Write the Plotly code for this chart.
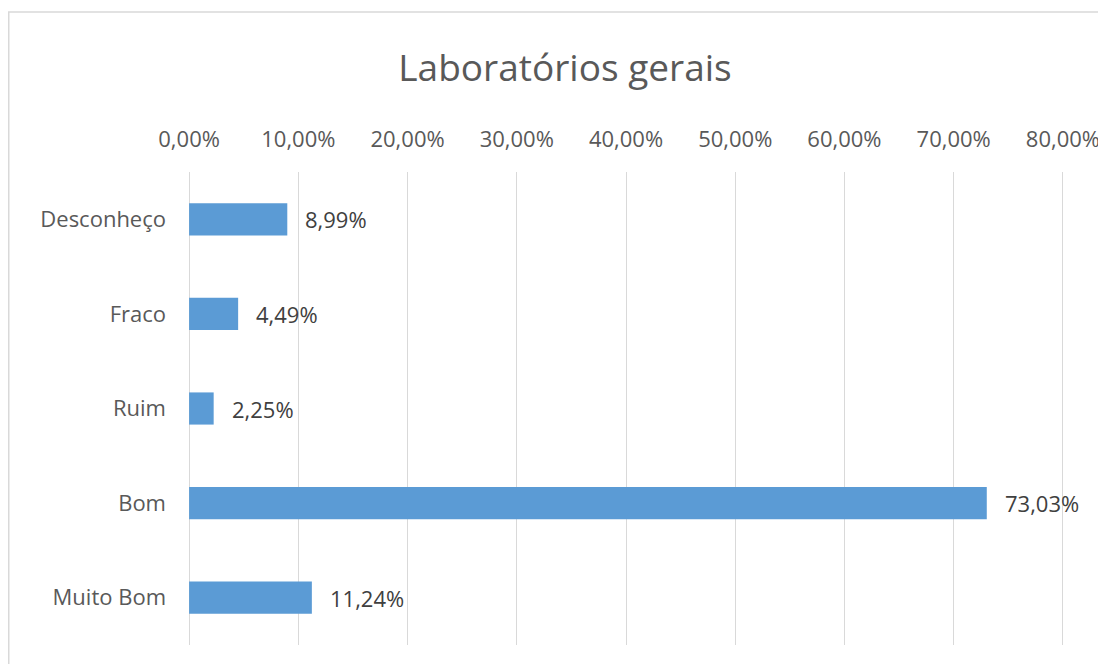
import plotly.graph_objects as go

categories = ["Desconheço", "Fraco", "Ruim", "Bom", "Muito Bom"]
values = [0.0899, 0.0449, 0.0225, 0.7303, 0.1124]
tick_values = [0, 0.1, 0.2, 0.3, 0.4, 0.5, 0.6, 0.7, 0.8]

BAR_COLOR = "#5B9BD5"
TEXT_COLOR = "#595959"
LABEL_COLOR = "#404040"
GRID_COLOR = "#D9D9D9"
FONT = "Open Sans, Noto Sans, sans-serif"

# the page body has an 8px margin, so the figure starts 8px in from the corner
W, H = 1098, 656
ML, MR, MT, MB = 180, 42, 164, 19
PW, PH = W - ML - MR, H - MT - MB

fig = go.Figure()

fig.add_trace(go.Bar(
    x=values,
    y=categories,
    orientation="h",
    marker=dict(color=BAR_COLOR, line=dict(width=0)),
    width=0.34,
    hoverinfo="x+y",
))

# data labels, pushed a bit right of the bar end like Excel does
for cat, val in zip(categories, values):
    fig.add_annotation(
        x=val, y=cat, xref="x", yref="y",
        text=f"{val * 100:.2f}%".replace(".", ","),
        showarrow=False, xanchor="left", yanchor="middle",
        xshift=16,
        font=dict(size=22, color=LABEL_COLOR, family=FONT),
    )

# thin frame around the whole chart, like the Excel chart border
fig.add_shape(
    type="rect", xref="paper", yref="paper",
    x0=(0.75 - ML) / PW, x1=1.5, y0=-0.2, y1=1 + (MT - 4) / PH,
    line=dict(color=GRID_COLOR, width=1.5),
    fillcolor="rgba(0,0,0,0)", layer="below",
)

fig.update_layout(
    width=W,
    height=H,
    separators=",.",
    paper_bgcolor="white",
    plot_bgcolor="white",
    showlegend=False,
    margin=dict(l=ML, r=MR, t=MT, b=MB, autoexpand=False),
    font=dict(family=FONT, color=TEXT_COLOR, size=22),
    title=dict(
        text="Laboratórios gerais",
        x=557 / W, xref="container", xanchor="center",
        y=1 - 60 / H, yref="container", yanchor="middle",
        font=dict(size=37, color=TEXT_COLOR, family=FONT),
    ),
)

fig.update_xaxes(
    side="top",
    range=[-0.001, 0.801],
    tickvals=tick_values,
    tickformat=".2%",
    ticklabeloverflow="allow",
    automargin=False,
    showgrid=True,
    gridcolor=GRID_COLOR,
    gridwidth=1,
    zeroline=False,
    showline=False,
    ticks="",
    ticklabelstandoff=20,
    tickfont=dict(size=22, color=TEXT_COLOR),
)

fig.update_yaxes(
    autorange="reversed",
    automargin=False,
    showgrid=False,
    showline=False,
    ticks="",
    ticklabelstandoff=21,
    tickfont=dict(size=22, color=TEXT_COLOR),
)

fig.write_html("out.html")
